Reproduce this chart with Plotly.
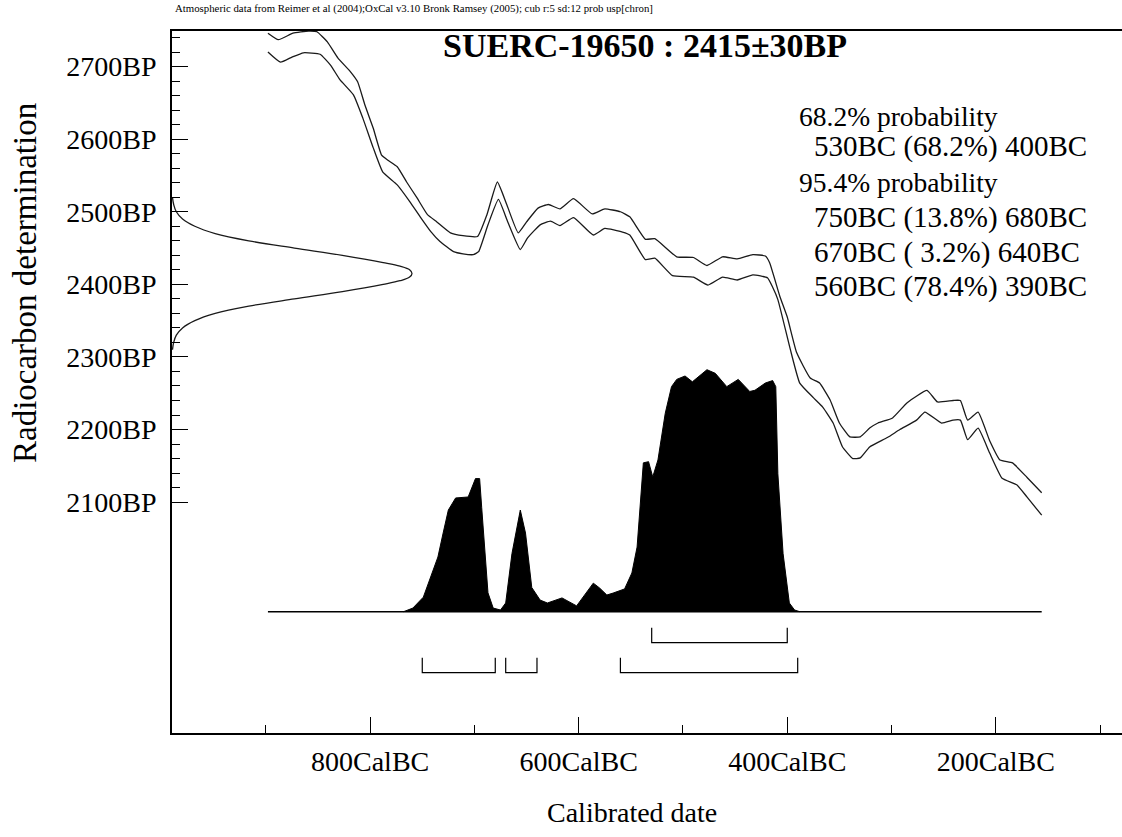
import plotly.graph_objects as go

# ---------------- data ----------------
header = ("Atmospheric data from Reimer et al (2004);OxCal v3.10 Bronk Ramsey (2005); "
          "cub r:5 sd:12 prob usp[chron]")
sample_name = "SUERC-19650"
c14_age = 2415
c14_err = 30

# calibration curve envelope (cal BC, BP)
curve_hi_bc = [898, 888, 874, 859, 851, 841, 831, 819, 812, 805, 797, 789, 783, 774, 765, 755,
               745, 736, 723, 711, 697, 688, 678, 669, 658, 650, 639, 629, 618, 605, 587, 575,
               560, 551, 536, 527, 506, 490, 477, 462, 448, 433, 421, 417, 407, 400, 391, 378,
               369, 359, 350, 340, 330, 321, 313, 299, 285, 266, 256, 241, 234, 227, 217, 206,
               196, 184, 170, 156]
curve_hi_bp = [2746, 2737, 2746, 2749, 2748, 2734, 2712, 2693, 2679, 2647, 2615, 2578, 2571, 2562,
               2541, 2519, 2496, 2486, 2471, 2467, 2466, 2496, 2541, 2510, 2471, 2486, 2505, 2510,
               2504, 2518, 2497, 2504, 2500, 2493, 2462, 2463, 2438, 2437, 2426, 2438, 2435, 2441,
               2439, 2430, 2383, 2355, 2306, 2271, 2264, 2241, 2209, 2190, 2190, 2202, 2209, 2216,
               2237, 2254, 2238, 2240, 2240, 2213, 2224, 2185, 2158, 2154, 2134, 2113]
curve_lo_bc = [898, 886, 875, 864, 848, 838, 829, 816, 807, 797, 788, 774, 762, 752, 742, 733,
               720, 711, 701, 696, 687, 677, 668, 656, 649, 637, 627, 618, 605, 586, 575, 558,
               551, 536, 527, 510, 490, 476, 462, 448, 433, 419, 414, 409, 397, 388, 375, 366,
               356, 347, 337, 330, 321, 304, 292, 276, 268, 252, 241, 234, 227, 217, 206, 194,
               180, 170, 156]
curve_lo_bp = [2720, 2706, 2713, 2719, 2717, 2702, 2682, 2661, 2629, 2588, 2555, 2537, 2514, 2493,
               2473, 2459, 2445, 2442, 2441, 2445, 2482, 2517, 2486, 2448, 2464, 2482, 2487, 2481,
               2492, 2468, 2477, 2472, 2468, 2434, 2436, 2412, 2410, 2399, 2410, 2406, 2413, 2409,
               2396, 2379, 2310, 2264, 2244, 2231, 2209, 2176, 2160, 2161, 2176, 2189, 2200, 2213,
               2224, 2209, 2213, 2213, 2186, 2202, 2168, 2133, 2124, 2107, 2082]

# radiocarbon measurement probability (BP, relative density)
meas_bp = [2310, 2320, 2330, 2340, 2350, 2360, 2370, 2380, 2390, 2400, 2405, 2410, 2415,
           2420, 2425, 2430, 2440, 2450, 2460, 2470, 2480, 2490, 2500, 2510, 2520]
meas_p = [0.002, 0.007, 0.018, 0.044, 0.095, 0.18, 0.32, 0.51, 0.71, 0.88, 0.95, 0.99, 1.0,
          0.99, 0.95, 0.88, 0.71, 0.51, 0.32, 0.18, 0.095, 0.044, 0.018, 0.007, 0.002]

# calibrated date probability (cal BC, relative density)
cal_bc = [768, 759, 749, 740, 735, 730, 725, 718, 706, 699, 695, 693, 690, 687, 682, 675,
          670, 664, 656, 651, 645, 637, 630, 616, 602, 586, 580, 573, 567, 556, 549, 544,
          538, 533, 529, 524, 517, 511, 506, 498, 491, 477, 469, 458, 447, 436, 431, 421,
          414, 411, 409, 404, 398, 393, 388]
cal_p = [0.0, 0.015, 0.06, 0.17, 0.226, 0.325, 0.42, 0.47, 0.474, 0.55, 0.55, 0.43, 0.24,
         0.078, 0.015, 0.007, 0.036, 0.24, 0.42, 0.325, 0.10, 0.048, 0.036, 0.057, 0.024,
         0.118, 0.098, 0.069, 0.077, 0.094, 0.16, 0.267, 0.615, 0.62, 0.557, 0.627, 0.82,
         0.93, 0.96, 0.974, 0.95, 1.0, 0.985, 0.93, 0.96, 0.91, 0.915, 0.945, 0.955, 0.93,
         0.57, 0.24, 0.036, 0.007, 0.0]

# highest probability ranges: (from BC, to BC, percent)
ranges_68 = [(530, 400, 68.2)]
ranges_95 = [(750, 680, 13.8), (670, 640, 3.2), (560, 390, 78.4)]

# axis ticks
x_major = [800, 600, 400, 200]
x_minor = [900, 700, 500, 300, 100]
y_major = [2100, 2200, 2300, 2400, 2500, 2600, 2700]
y_minor = [v for v in range(2100, 2750, 20) if v not in y_major]

# ---------------- layout geometry (pixels) ----------------
W, H = 1122, 837
L, R, T, B = 172, 1122, 31, 733
SERIF = "Liberation Serif, Times New Roman, serif"


def px_x(px):
    return (px - L) / (R - L)


def px_y(py):
    return (B - py) / (B - T)


# calibrated-distribution axis: 0 at baseline pixel, 1 at peak pixel
base_py, peak_py = 611.7, 369.7
unit = (base_py - peak_py) / (B - T)
y2_lo = -(B - base_py) / (B - T) / unit
y2_range = [y2_lo, y2_lo + 1 / unit]
# measurement density axis: peak reaches pixel 412
x2_range = [0, 1 / px_x(412)]

fig = go.Figure()

line_col = "#1a1a1a"
# calibration curve
fig.add_trace(go.Scatter(x=curve_hi_bc, y=curve_hi_bp, mode="lines",
                         line=dict(color=line_col, width=1.3, shape="spline", smoothing=0.4),
                         hoverinfo="skip"))
fig.add_trace(go.Scatter(x=curve_lo_bc, y=curve_lo_bp, mode="lines",
                         line=dict(color=line_col, width=1.3, shape="spline", smoothing=0.4),
                         hoverinfo="skip"))

# measurement gaussian
fig.add_trace(go.Scatter(x=meas_p, y=meas_bp, xaxis="x2", yaxis="y", mode="lines",
                         line=dict(color=line_col, width=1.3, shape="spline"),
                         hoverinfo="skip"))

# baseline for calibrated distribution
fig.add_trace(go.Scatter(x=[curve_hi_bc[0], curve_hi_bc[-1]], y=[0, 0], xaxis="x", yaxis="y2",
                         mode="lines", line=dict(color="black", width=1.5), hoverinfo="skip"))
# calibrated distribution
fig.add_trace(go.Scatter(x=cal_bc, y=cal_p, xaxis="x", yaxis="y2", mode="lines",
                         fill="tozeroy", fillcolor="black",
                         line=dict(color="black", width=1), hoverinfo="skip"))

# range brackets
lev68 = (-0.066, -0.128)
lev95 = (-0.19, -0.252)
for (a, b, p) in ranges_68:
    fig.add_trace(go.Scatter(x=[a, a, b, b], y=[lev68[0], lev68[1], lev68[1], lev68[0]],
                             xaxis="x", yaxis="y2", mode="lines",
                             line=dict(color="black", width=1.2), hoverinfo="skip"))
for (a, b, p) in ranges_95:
    fig.add_trace(go.Scatter(x=[a, a, b, b], y=[lev95[0], lev95[1], lev95[1], lev95[0]],
                             xaxis="x", yaxis="y2", mode="lines",
                             line=dict(color="black", width=1.2), hoverinfo="skip"))

annotations = []
# header
annotations.append(dict(x=px_x(173), y=px_y(9), xref="paper", yref="paper", xanchor="left",
                        yanchor="middle", showarrow=False, text=header,
                        font=dict(family=SERIF, size=10.8, color="black")))
# title
annotations.append(dict(x=px_x(645), y=px_y(45), xref="paper", yref="paper", xanchor="center",
                        yanchor="middle", showarrow=False,
                        text=f"<b>{sample_name} : {c14_age}\u00b1{c14_err}BP</b>",
                        font=dict(family=SERIF, size=34, color="black")))


def fmt(r):
    a, b, p = r
    return f"{a}BC ({p:4.1f}%) {b}BC".replace(" ", "\u00a0")


lines = [("68.2% probability", 797, 117, 27.5)] + \
        [(fmt(r), 812, 146, 29) for r in ranges_68] + \
        [("95.4% probability", 797, 183, 27.5)] + \
        [(fmt(r), 812, y, 29) for r, y in zip(ranges_95, [218, 252.5, 286.5])]
for txt, xx, yy, fs in lines:
    annotations.append(dict(x=px_x(xx), y=px_y(yy), xref="paper", yref="paper", xanchor="left",
                            yanchor="middle", showarrow=False, text=txt,
                            font=dict(family=SERIF, size=fs, color="black")))
# axis titles
annotations.append(dict(x=px_x(632), y=px_y(812), xref="paper", yref="paper", xanchor="center",
                        yanchor="middle", showarrow=False, text="Calibrated date",
                        font=dict(family=SERIF, size=28, color="black")))
annotations.append(dict(x=px_x(25), y=px_y(283), xref="paper", yref="paper", xanchor="center",
                        yanchor="middle", showarrow=False, text="Radiocarbon determination",
                        textangle=-90, font=dict(family=SERIF, size=33, color="black")))

fig.update_layout(
    width=W, height=H,
    margin=dict(l=L, r=W - R, t=T, b=H - B, pad=0),
    paper_bgcolor="white", plot_bgcolor="white",
    showlegend=False,
    font=dict(family=SERIF, size=28, color="black"),
    annotations=annotations,
    xaxis=dict(range=[990, 79], tickvals=x_major, ticktext=[f"{v}CalBC" for v in x_major],
               ticks="inside", ticklen=16, tickwidth=1.2, tickcolor="black",
               minor=dict(tickvals=x_minor, ticks="inside", ticklen=8, tickwidth=1,
                          tickcolor="black"),
               showline=True, linecolor="black", linewidth=1.8, mirror=True,
               showgrid=False, zeroline=False, ticklabelstandoff=2,
               tickfont=dict(family=SERIF, size=28, color="black")),
    yaxis=dict(range=[1782, 2749], tickvals=y_major, ticktext=[f"{v}BP" for v in y_major],
               ticks="inside", ticklen=16, tickwidth=1.2, tickcolor="black",
               minor=dict(tickvals=y_minor, ticks="inside", ticklen=8, tickwidth=1,
                          tickcolor="black"),
               showline=True, linecolor="black", linewidth=1.8,
               showgrid=False, zeroline=False, ticklabelstandoff=8,
               tickfont=dict(family=SERIF, size=28, color="black")),
    xaxis2=dict(range=x2_range, overlaying="x", visible=False),
    yaxis2=dict(range=y2_range, overlaying="y", visible=False),
)

fig.write_html("out.html", config={"displayModeBar": False},
               post_script="document.body.style.margin='0';document.body.style.overflow='hidden';")
